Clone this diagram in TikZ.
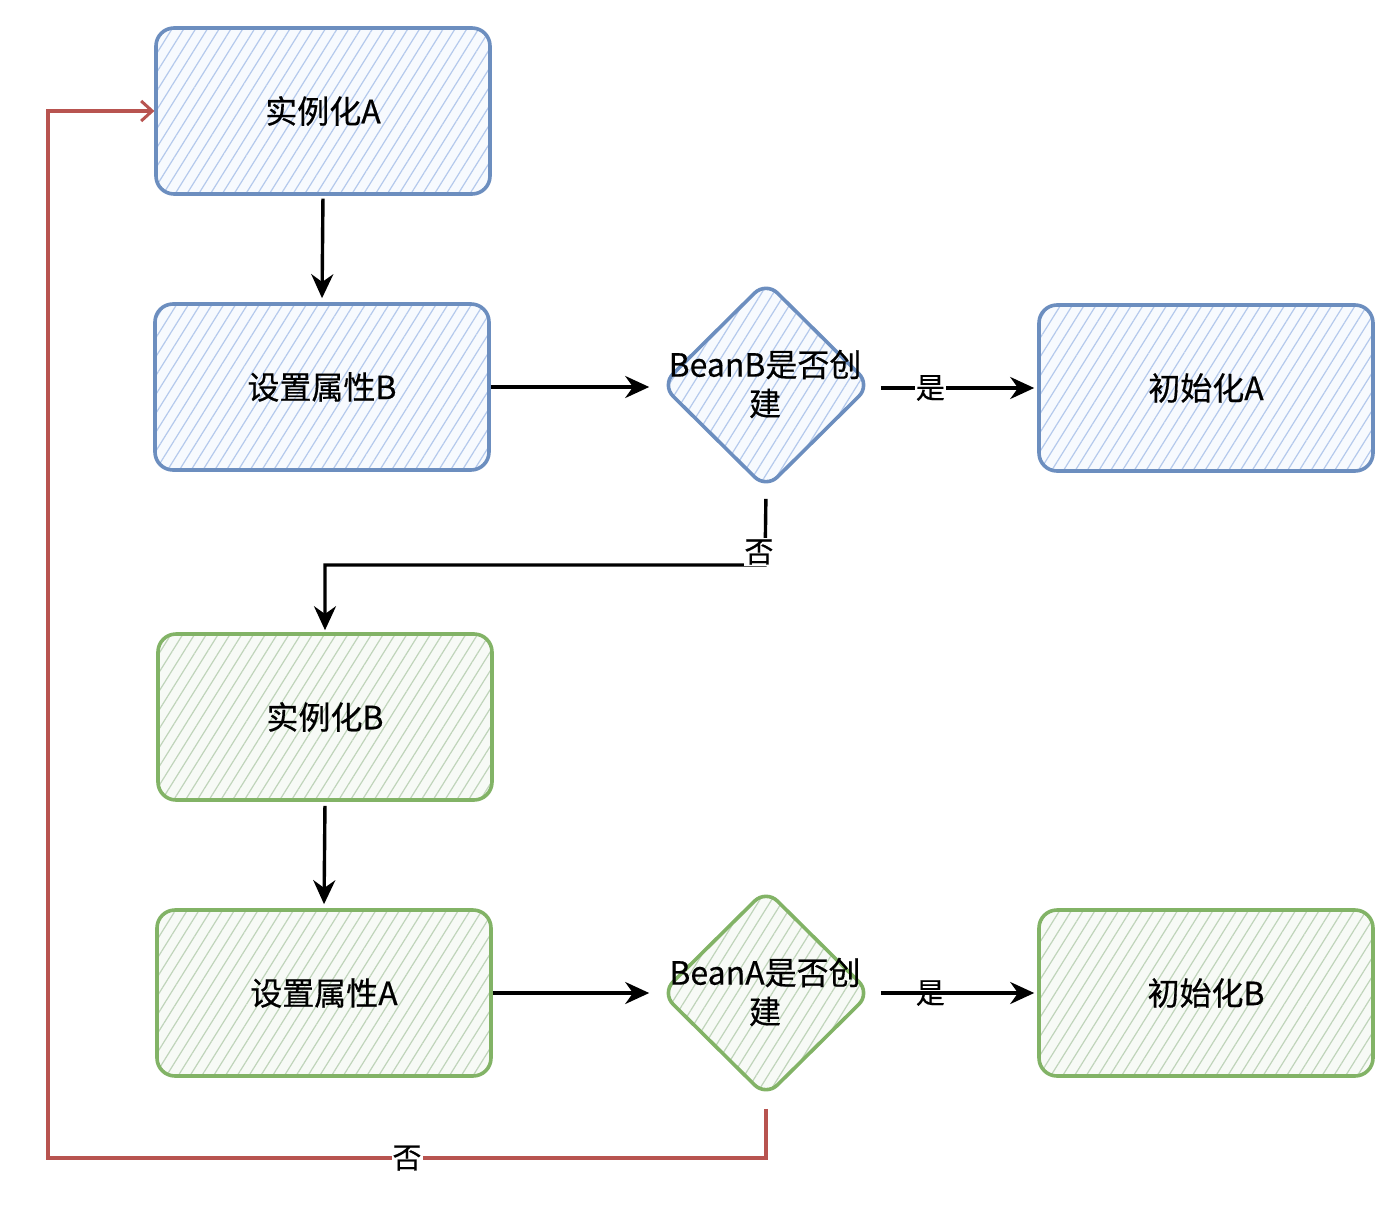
\documentclass[tikz,border=0pt]{standalone}
\usepackage{fontspec}
\setmainfont{Noto Sans CJK SC}[FakeBold=0.5]
\usetikzlibrary{shapes.geometric,arrows.meta,patterns.meta}
\definecolor{bstroke}{HTML}{6C8EBF}
\definecolor{bhatch}{HTML}{B4C9EC}
\definecolor{bbase}{HTML}{F7FAFE}
\definecolor{gstroke}{HTML}{82B366}
\definecolor{ghatch}{HTML}{BFD4BA}
\definecolor{gbase}{HTML}{F7FAF6}
\definecolor{rstroke}{HTML}{B85450}
\tikzset{
  lbl/.style={font=\fontsize{32}{39}\selectfont, align=center},
  boxnode/.style={rectangle, rounded corners=18pt, line width=3.6pt, minimum width=334pt, minimum height=166pt, lbl},
  dianode/.style={diamond, rounded corners=16pt, line width=3.6pt, minimum width=210pt, minimum height=208pt, inner sep=0pt},
  bluefill/.style={draw=bstroke, preaction={fill=bbase}, pattern={Lines[angle=58,distance=10pt,line width=1.2pt]}, pattern color=bhatch},
  greenfill/.style={draw=gstroke, preaction={fill=gbase}, pattern={Lines[angle=58,distance=10pt,line width=1.2pt]}, pattern color=ghatch},
  arr/.style={draw=black, line width=3.4pt, -{Stealth[length=24pt,width=22pt]}},
  redarr/.style={draw=rstroke, line width=3.2pt, -{Straight Barb[length=11pt,width=20pt,line width=3pt]}},
  edgelbl/.style={lbl, font=\fontsize{29}{35}\selectfont, inner sep=1pt}
}
\begin{document}
\begin{tikzpicture}[x=1pt,y=-1pt]
\useasboundingbox (0,0) rectangle (1400,1210);
% nodes
\node[boxnode, bluefill] (iA) at (323,111) {实例化A};
\node[boxnode, bluefill] (sB) at (322,387) {设置属性B};
\node[dianode, bluefill] (dB) at (766,385) {};
\node[lbl] (dBt) at (765,384) {BeanB是否创\\建};
\node[boxnode, bluefill] (nA) at (1206,388) {初始化A};

\node[boxnode, greenfill] (iB) at (325,717) {实例化B};
\node[boxnode, greenfill] (sA) at (324,993) {设置属性A};
\node[dianode, greenfill] (dA) at (766,993) {};
\node[lbl] (dAt) at (765,992) {BeanA是否创\\建};
\node[boxnode, greenfill] (nB) at (1206,993) {初始化B};

% connectors
\draw[arr, shorten <=4pt, shorten >=4pt] (iA.south) -- (sB.north);
\draw[arr, shorten >=10pt] (sB.east) -- (sB.east -| dB.west);
\draw[arr, shorten <=8pt, shorten >=3pt] (nA.west -| dB.east) -- node[edgelbl, fill=white, pos=0.35] (yes1) {是} (nA.west);

\coordinate (k1) at (765,565);
\draw[arr, shorten <=8pt, shorten >=2pt] (dB.south) -- (k1) -| (iB.north);
\node[edgelbl, fill=white] (no1) at (759,552) {否};

\draw[arr, shorten <=4pt, shorten >=4pt] (iB.south) -- (sA.north);
\draw[arr, shorten >=10pt] (sA.east) -- (sA.east -| dA.west);
\draw[arr, shorten <=8pt, shorten >=3pt] (dA.east) -- node[edgelbl, pos=0.35] (yes2) {是} (nB.west);

\coordinate (r1) at (766,1158);
\coordinate (r2) at (48,1158);
\draw[redarr, shorten <=10pt, shorten >=1pt] (dA.south) -- (r1) -- node[edgelbl, fill=white] (no2) {否} (r2) |- (iA.west);
\end{tikzpicture}
\end{document}
